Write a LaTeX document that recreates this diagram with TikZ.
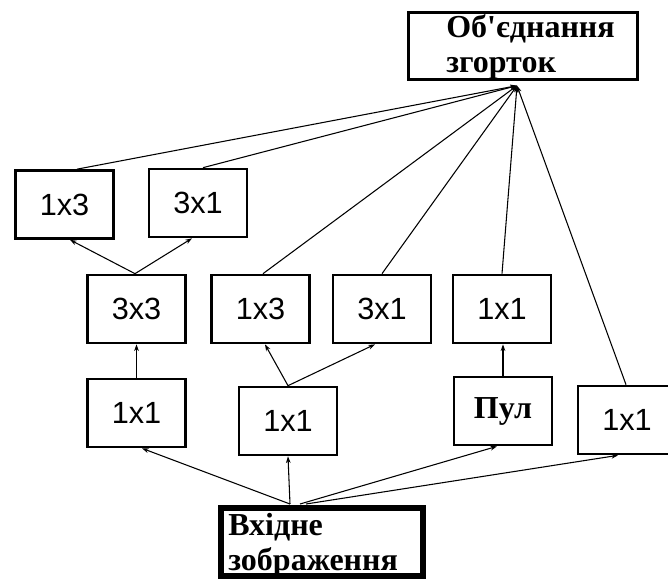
\documentclass[tikz,border=0pt]{standalone}
\usepackage{fontspec}
\setmainfont{Liberation Serif}
\setsansfont{Liberation Sans}
\usetikzlibrary{calc,arrows.meta}
\begin{document}
\begin{tikzpicture}[x=0.75pt,y=-0.75pt,
  opbox/.style={draw, line width=2pt, minimum width=73.5pt, minimum height=51pt, inner sep=0pt, font=\sffamily\fontsize{23}{27}\selectfont},
  sertext/.style={font=\bfseries\fontsize{24}{28}\selectfont, inner sep=0pt},
  conn/.style={line width=0.8pt, -{Stealth[length=5pt,width=3.5pt]}},
  hubconn/.style={line width=0.8pt, -{Stealth[length=5pt,width=3.5pt]}}
]
\useasboundingbox[fill=white] (0,0) rectangle (668,579);
% top box
\node[draw, line width=2pt, minimum width=171.5pt, minimum height=50pt, inner sep=0pt] (top) at (523,46) {};
\node[sertext, anchor=base west] (toptxt1) at (446,37) {Об\textquotesingle єднання};
\node[sertext, anchor=base west] (toptxt2) at (446,72) {згорток};
\coordinate (hub) at ($(top.south)+(-6,5)$);
% row 1
\node[opbox] (r1a) at (64.5,204.5) {1x3};
\node[opbox] (r1b) at (198,203) {3x1};
% row 2
\node[opbox] (r2a) at (136.5,309) {3x3};
\node[opbox] (r2b) at (260.5,309) {1x3};
\node[opbox] (r2c) at (382,309) {3x1};
\node[opbox] (r2d) at (502,309) {1x1};
% row 3
\node[opbox] (r3a) at (136.5,413) {1x1};
\node[opbox] (r3b) at (288,421) {1x1};
\node[opbox, font=\bfseries\fontsize{24}{28}\selectfont] (r3c) at (503,411) {Пул};
\node[opbox] (r3d) at (627,420) {1x1};
% input box
\node[draw, line width=4.5pt, minimum width=151.5pt, minimum height=51pt, inner sep=0pt] (in) at (322,542) {};
\node[sertext, anchor=base west] (intxt1) at (228,535) {Вхідне};
\node[sertext, anchor=base west] (intxt2) at (228,570) {зображення};
\coordinate (bhub) at ($(in.north)+(-32,-1)$);
% connectors to hub
\draw[hubconn] ($(r1a.north)+(12.5,0)$) -- (hub);
\draw[hubconn] ($(r1b.north)+(5,0)$) -- (hub);
\draw[hubconn] ($(r2b.north)+(2.5,0)$) -- (hub);
\draw[hubconn] (r2c.north) -- (hub);
\draw[hubconn] (r2d.north) -- (hub);
\draw[hubconn] ($(r3d.north)+(-1,0)$) -- (hub);
% internal
\draw[conn] ($(r2a.north)+(-1.5,0)$) -- ($(r1a.south)+(5.5,0)$);
\draw[conn] ($(r2a.north)+(-1.5,0)$) -- ($(r1b.south)+(-6,0)$);
\draw[conn] (r3a.north) -- (r2a.south);
\draw[conn] (r3b.north) -- ($(r2b.south)+(4.5,0)$);
\draw[conn] (r3b.north) -- ($(r2c.south)+(-7,0)$);
\draw[conn] (r3c.north) -- ($(r2d.south)+(1,0)$);
% from input
\draw[conn] (bhub) -- ($(r3a.south)+(5.5,0)$);
\draw[conn] (bhub) -- (r3b.south);
\draw[conn] ($(bhub)+(10,0)$) -- ($(r3c.south)+(-6,0)$);
\draw[conn] ($(bhub)+(16,0)$) -- ($(r3d.south)+(-9,0)$);
\end{tikzpicture}
\end{document}
